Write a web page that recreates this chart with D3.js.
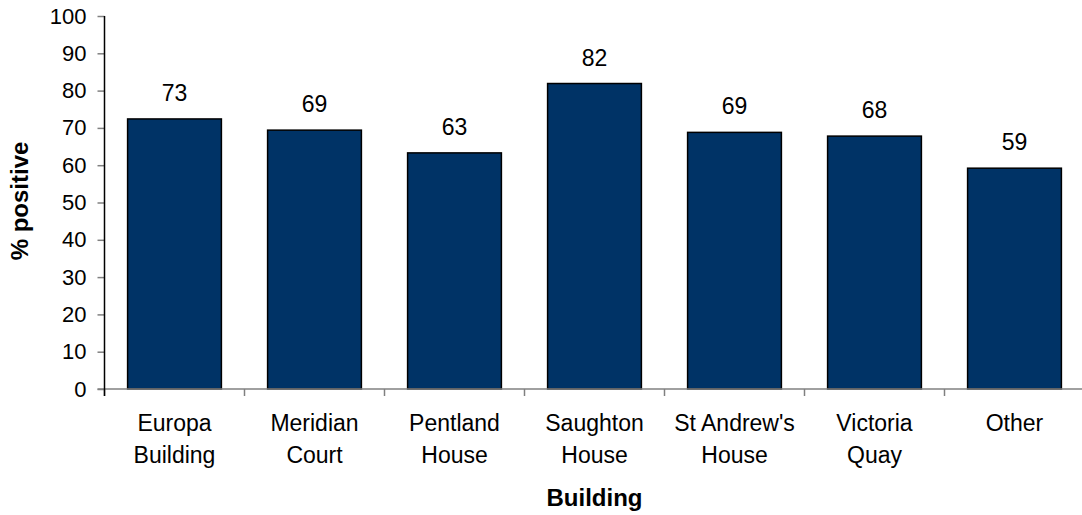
<!DOCTYPE html>
<html>
<head>
<meta charset="utf-8">
<script src="https://cdn.jsdelivr.net/npm/d3@7"></script>
<style>
  body { margin: 0; background: #fff; }
  text { font-family: 'Liberation Sans', Arial, sans-serif; fill: #000; }
</style>
</head>
<body>
<div id="chart"></div>
<script>
// data
var buildings = [['Europa', 'Building'], ['Meridian', 'Court'], ['Pentland', 'House'],
  ['Saughton', 'House'], ["St Andrew's", 'House'], ['Victoria', 'Quay'], ['Other']]
var positive = [72.4, 69.4, 63.3, 81.9, 68.8, 67.8, 59.2]
var labels = [73, 69, 63, 82, 69, 68, 59]
var yTicks = [0, 10, 20, 30, 40, 50, 60, 70, 80, 90, 100]

var width = 1082
var height = 515
var plot = { left: 104.5, right: 1084.5, top: 16, bottom: 389 }

var svg = d3.select('#chart')
  .append('svg')
  .attr('width', width)
  .attr('height', height)

var idx = buildings.map(function (d, i) { return i })
var xScale = d3.scaleBand()
  .domain(idx)
  .range([plot.left, plot.right])
  .paddingInner(0.33)
  .paddingOuter(0.165)
var yScale = d3.scaleLinear().domain([0, 100]).range([plot.bottom, plot.top])
var step = xScale.step()

// bars
svg.append('g')
  .selectAll('rect')
  .data(positive)
  .enter()
  .append('rect')
  .attr('x', function (d, i) { return xScale(i) })
  .attr('y', function (d) { return yScale(d) })
  .attr('width', xScale.bandwidth())
  .attr('height', function (d) { return yScale(0) - yScale(d) })
  .attr('fill', '#003366')
  .attr('stroke', '#000')
  .attr('stroke-width', 1.5)

// value labels
svg.append('g')
  .selectAll('text')
  .data(positive)
  .enter()
  .append('text')
  .attr('x', function (d, i) { return xScale(i) + xScale.bandwidth() / 2 })
  .attr('y', function (d) { return yScale(d) - 18 })
  .attr('text-anchor', 'middle')
  .style('font-size', '23px')
  .text(function (d, i) { return labels[i] })

// x axis: gray line with ticks at category boundaries
var gx = svg.append('g')
gx.append('line')
  .attr('x1', plot.left - 7).attr('x2', width)
  .attr('y1', yScale(0)).attr('y2', yScale(0))
  .attr('stroke', '#808080').attr('stroke-width', 1.5)
gx.selectAll('line.tick')
  .data(d3.range(buildings.length + 1))
  .enter()
  .append('line')
  .attr('class', 'tick')
  .attr('x1', function (d) { return plot.left + d * step })
  .attr('x2', function (d) { return plot.left + d * step })
  .attr('y1', yScale(0)).attr('y2', yScale(0) + 7)
  .attr('stroke', '#808080').attr('stroke-width', 1.5)

var catText = gx.selectAll('text.cat')
  .data(buildings)
  .enter()
  .append('text')
  .attr('class', 'cat')
  .attr('text-anchor', 'middle')
  .attr('transform', function (d, i) {
    return 'translate(' + (xScale(i) + xScale.bandwidth() / 2) + ',431)'
  })
  .style('font-size', '23px')
catText.selectAll('tspan')
  .data(function (d) { return d })
  .enter()
  .append('tspan')
  .attr('x', 0)
  .attr('y', function (d, i) { return i * 32 })
  .text(function (d) { return d })

// y axis
var yAxis = d3.axisLeft(yScale).tickValues(yTicks).tickSize(7).tickPadding(11)
var gy = svg.append('g')
  .attr('transform', 'translate(' + plot.left + ',0)')
  .call(yAxis)
gy.select('.domain').remove()
gy.selectAll('.tick line').attr('stroke', '#808080').attr('stroke-width', 1.5)
gy.selectAll('.tick text')
  .style('font-size', '22px')
  .style('font-family', "'Liberation Sans', Arial, sans-serif")
  .attr('fill', '#000')
svg.append('line')
  .attr('x1', plot.left).attr('x2', plot.left)
  .attr('y1', plot.top).attr('y2', yScale(0) + 7)
  .attr('stroke', '#000').attr('stroke-width', 1.5)

// axis titles
svg.append('text')
  .attr('x', (plot.left + plot.right) / 2)
  .attr('y', 506)
  .attr('text-anchor', 'middle')
  .style('font-size', '24px')
  .style('font-weight', 'bold')
  .text('Building')
svg.append('text')
  .attr('transform', 'translate(28,201)rotate(-90)')
  .attr('text-anchor', 'middle')
  .style('font-size', '24px')
  .style('font-weight', 'bold')
  .text('% positive')
</script>
</body>
</html>
